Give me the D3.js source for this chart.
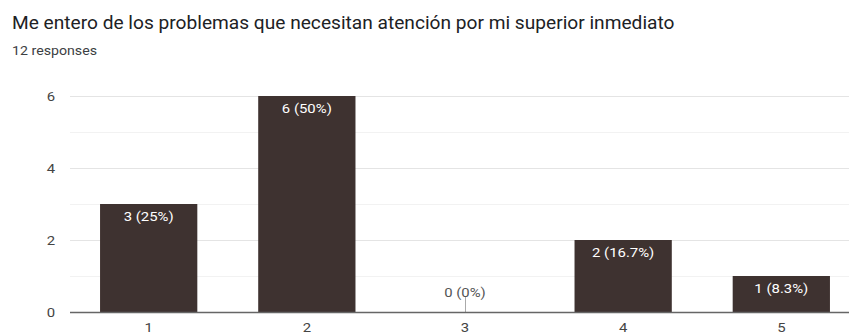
<!DOCTYPE html>
<html>
<head>
<meta charset="utf-8">
<script src="https://cdn.jsdelivr.net/npm/d3@7"></script>
<style>
  html, body { margin: 0; padding: 0; background: #fff; }
  svg { display: block; font-family: Roboto, Arial, sans-serif; }
</style>
</head>
<body>
<svg id="chart" width="849" height="333"></svg>
<script>
// Survey question and response summary
const title = "Me entero de los problemas que necesitan atención por mi superior inmediato";
const subtitle = "12 responses";

// Answer options (1–5 scale) and number of responses for each
const categories = ["1", "2", "3", "4", "5"];
const counts = [3, 6, 0, 2, 1];
const labels = ["3 (25%)", "6 (50%)", "0 (0%)", "2 (16.7%)", "1 (8.3%)"];

// Y axis ticks
const yTicks = [0, 2, 4, 6];
const yMinor = [1, 3, 5];

const W = 849, H = 333;
const svg = d3.select("#chart");

// horizontal widening factor so a sample string spans the given width
function widthFactor(str, size, target) {
  const t = svg.append("text").attr("font-size", size).text(str);
  const w = t.node().getComputedTextLength();
  t.remove();
  return w > 0 ? target / w : 1;
}

// place text with horizontal widening around its anchor point
function placeText(sel, fx, fy, sx) {
  return sel.attr("x", 0).attr("y", 0)
    .attr("transform", (d, i) => `translate(${fx(d, i)},${fy(d, i)}) scale(${sx},1)`);
}

const titleSX = widthFactor(title, 17.5, 663);
const subSX = widthFactor(subtitle, 12.7, 85);
const labelSX = widthFactor("3 (25%)", 13.5, 50);

placeText(svg.append("text"), () => 12, () => 29, titleSX)
  .attr("font-size", 17.5)
  .attr("fill", "#202124")
  .text(title);

placeText(svg.append("text"), () => 12, () => 55, subSX)
  .attr("font-size", 12.7)
  .attr("fill", "#3c4043")
  .text(subtitle);

const left = 70, baseY = 312, topY = 96;

const x = d3.scaleBand()
  .domain(categories)
  .range([left, left + 790])
  .paddingInner(0.385)
  .paddingOuter(0.19);

const y = d3.scaleLinear()
  .domain([0, 6])
  .range([baseY, topY]);

// Gridlines
svg.append("g").selectAll("line.minor")
  .data(yMinor).join("line")
  .attr("x1", left).attr("x2", W)
  .attr("y1", d => y(d) + 0.5).attr("y2", d => y(d) + 0.5)
  .attr("stroke", "#f2f2f2").attr("stroke-width", 1);

svg.append("g").selectAll("line.major")
  .data(yTicks.filter(d => d !== 0)).join("line")
  .attr("x1", left).attr("x2", W)
  .attr("y1", d => y(d) + 0.5).attr("y2", d => y(d) + 0.5)
  .attr("stroke", "#e4e4e4").attr("stroke-width", 1);

// Y axis labels
placeText(svg.append("g").selectAll("text").data(yTicks).join("text"),
    () => 55, d => y(d), labelSX)
  .attr("dy", "0.35em")
  .attr("text-anchor", "end")
  .attr("font-size", 13.5)
  .attr("fill", "#444")
  .text(d => d);

// Bars
const data = categories.map((c, i) => ({ c, v: counts[i], label: labels[i] }));

svg.append("g").selectAll("rect")
  .data(data.filter(d => d.v > 0)).join("rect")
  .attr("x", d => x(d.c))
  .attr("width", x.bandwidth())
  .attr("y", d => y(d.v))
  .attr("height", d => y(0) - y(d.v))
  .attr("fill", "#3e3230");

// Zero-value marker
svg.append("g").selectAll("line")
  .data(data.filter(d => d.v === 0)).join("line")
  .attr("x1", d => x(d.c) + x.bandwidth() / 2 + 0.5)
  .attr("x2", d => x(d.c) + x.bandwidth() / 2 + 0.5)
  .attr("y1", y(0) - 15).attr("y2", y(0))
  .attr("stroke", "#aaa").attr("stroke-width", 1);

// Value labels
placeText(svg.append("g").selectAll("text").data(data).join("text"),
    d => x(d.c) + x.bandwidth() / 2,
    d => d.v > 0 ? y(d.v) + 17 : y(0) - 15, labelSX)
  .attr("text-anchor", "middle")
  .attr("font-size", 13.5)
  .attr("fill", d => d.v > 0 ? "#ffffff" : "#555")
  .text(d => d.label);

// Baseline
svg.append("line")
  .attr("x1", left).attr("x2", W)
  .attr("y1", y(0) + 0.5).attr("y2", y(0) + 0.5)
  .attr("stroke", "#666").attr("stroke-width", 1.3);

// X axis labels
placeText(svg.append("g").selectAll("text").data(categories).join("text"),
    d => x(d) + x.bandwidth() / 2, () => 332, labelSX)
  .attr("text-anchor", "middle")
  .attr("font-size", 13.5)
  .attr("fill", "#444")
  .text(d => d);
</script>
</body>
</html>
